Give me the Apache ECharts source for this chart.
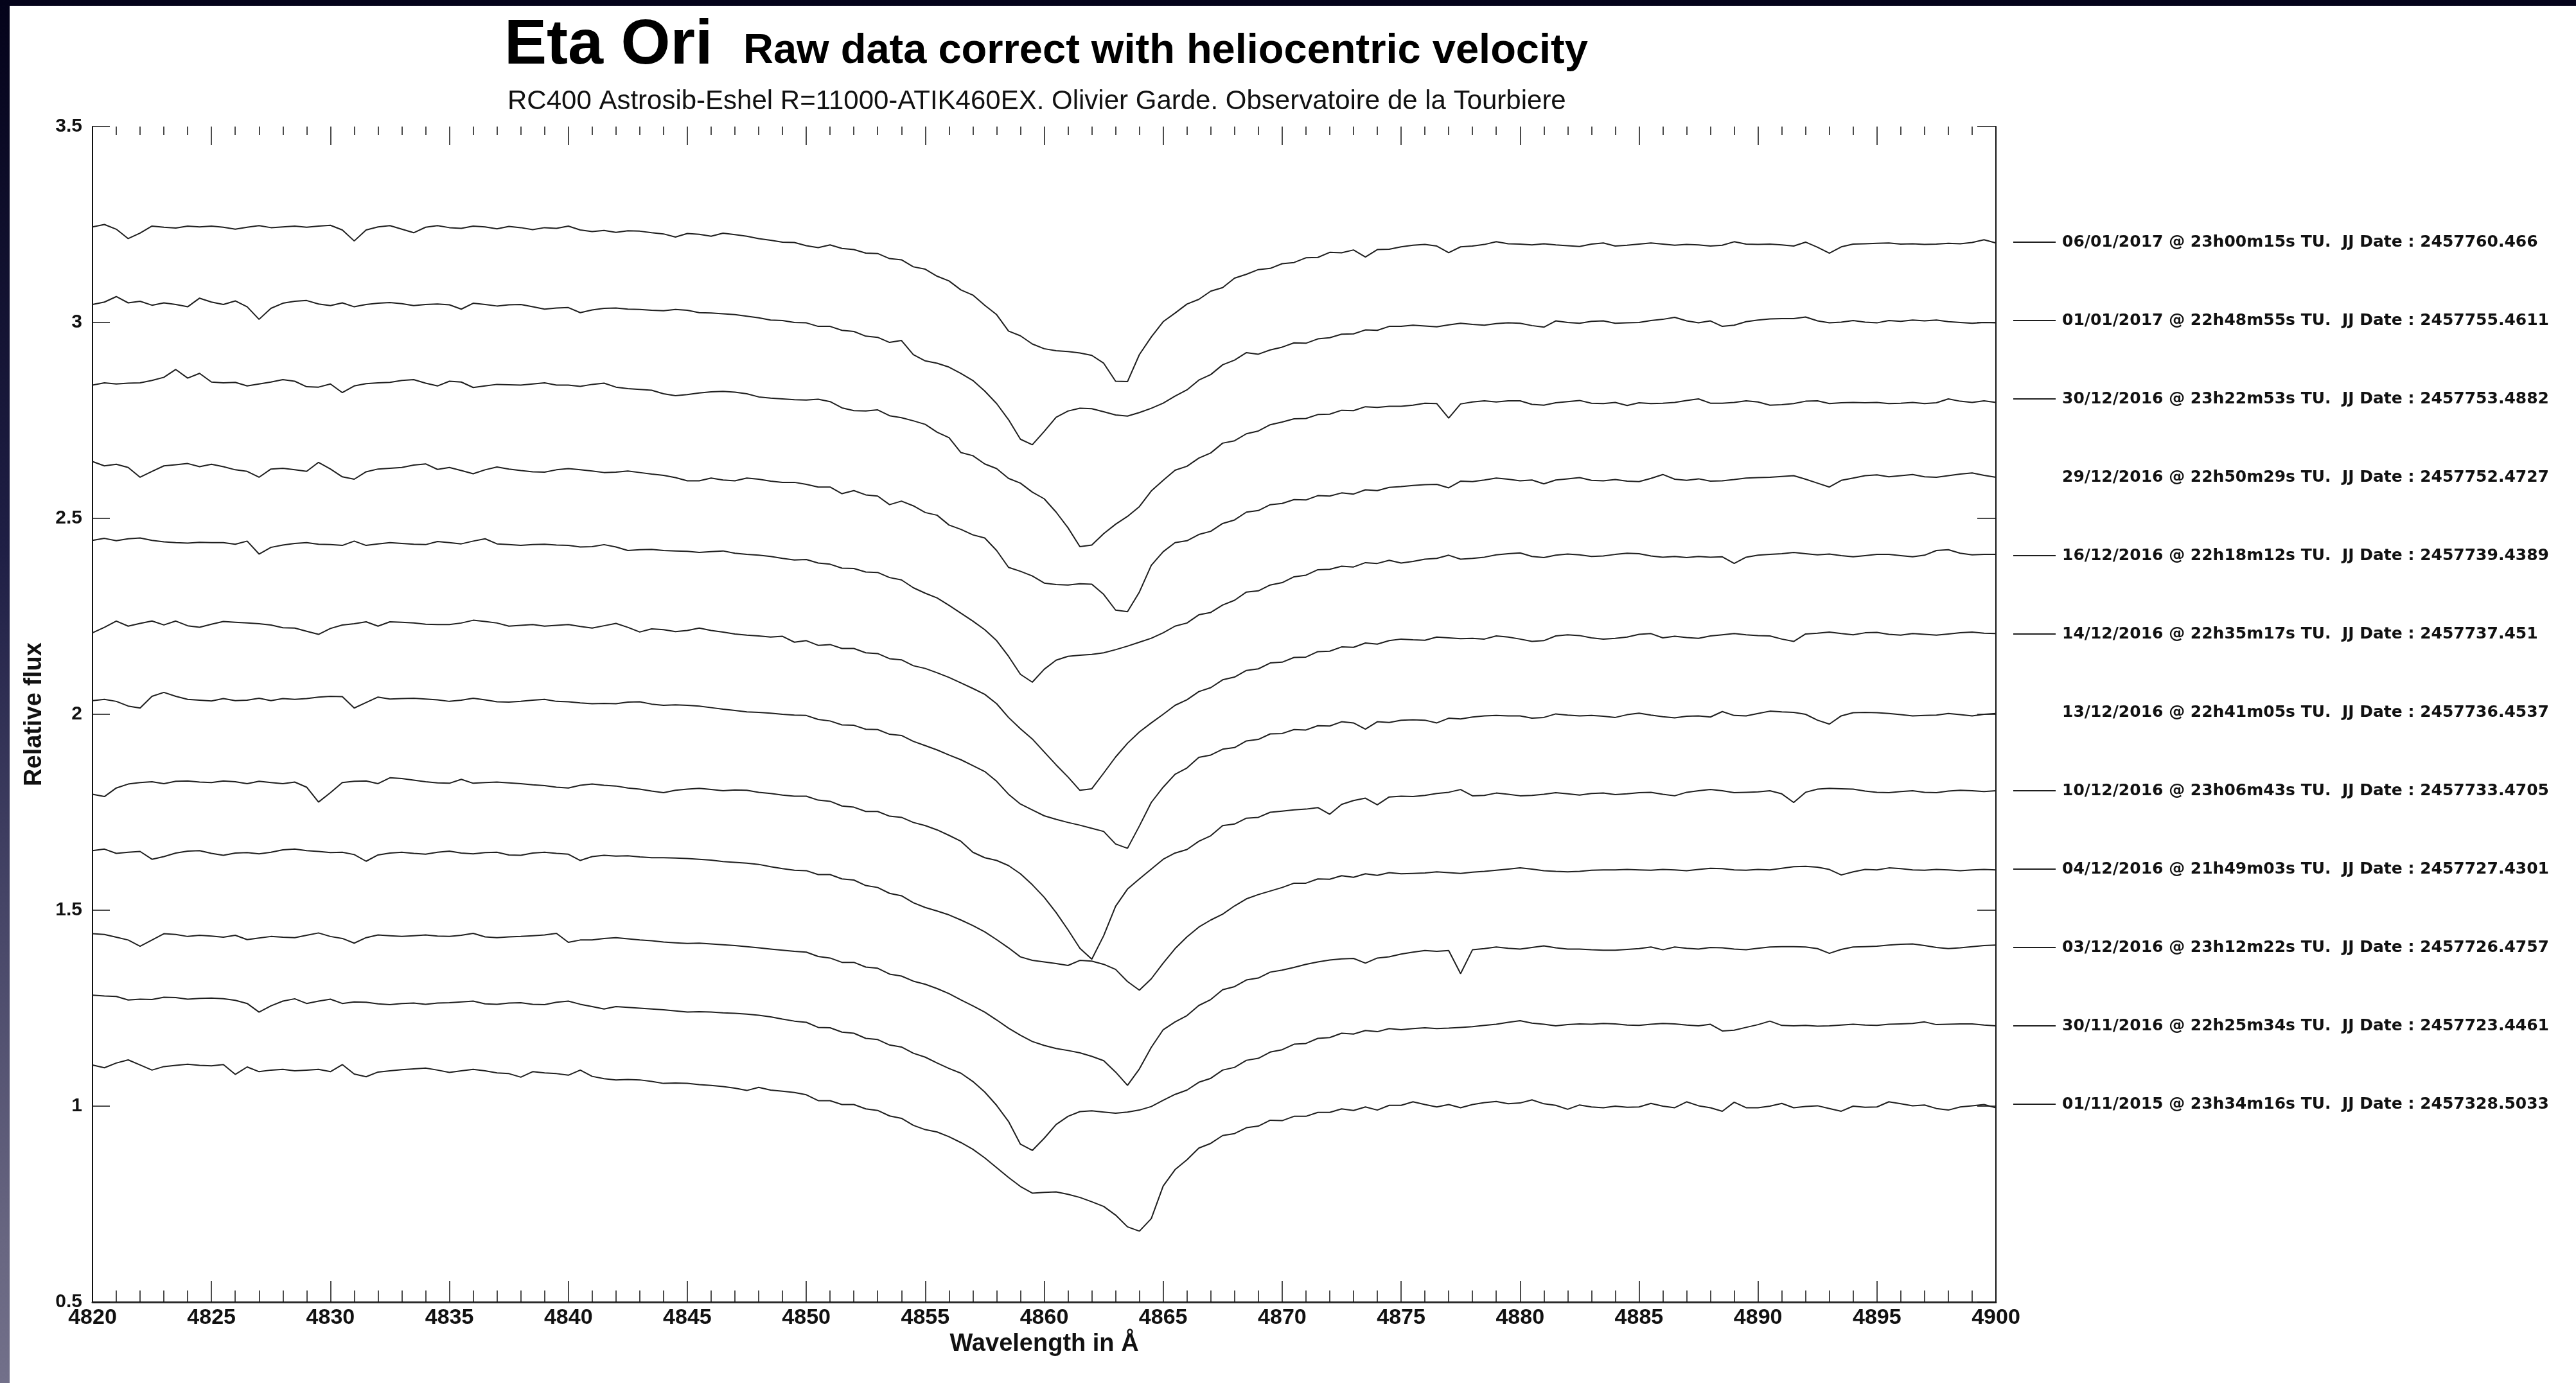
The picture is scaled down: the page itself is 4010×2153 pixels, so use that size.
<!DOCTYPE html>
<html>
<head>
<meta charset="utf-8">
<title>Eta Ori - Raw data correct with heliocentric velocity</title>
<script src="https://cdn.jsdelivr.net/npm/echarts@6/dist/echarts.min.js"></script>
<style>
  html, body { margin: 0; padding: 0; }
  body {
    width: 4010px;
    height: 2153px;
    overflow: hidden;
    background: linear-gradient(to bottom, #04031a 0%, #1f1f45 40%, #454466 65%, #686681 90%, #72708a 100%);
  }
  #chart {
    position: absolute;
    left: 15px;
    top: 9px;
    width: 3995px;
    height: 2144px;
    background: #ffffff;
  }
</style>
</head>
<body>
<div id="chart"></div>
<script>
// wavelength grid (Å), 0.5 Å steps
const wavelength = [
  4820, 4820.5, 4821, 4821.5, 4822, 4822.5, 4823, 4823.5, 4824, 4824.5,
  4825, 4825.5, 4826, 4826.5, 4827, 4827.5, 4828, 4828.5, 4829, 4829.5,
  4830, 4830.5, 4831, 4831.5, 4832, 4832.5, 4833, 4833.5, 4834, 4834.5,
  4835, 4835.5, 4836, 4836.5, 4837, 4837.5, 4838, 4838.5, 4839, 4839.5,
  4840, 4840.5, 4841, 4841.5, 4842, 4842.5, 4843, 4843.5, 4844, 4844.5,
  4845, 4845.5, 4846, 4846.5, 4847, 4847.5, 4848, 4848.5, 4849, 4849.5,
  4850, 4850.5, 4851, 4851.5, 4852, 4852.5, 4853, 4853.5, 4854, 4854.5,
  4855, 4855.5, 4856, 4856.5, 4857, 4857.5, 4858, 4858.5, 4859, 4859.5,
  4860, 4860.5, 4861, 4861.5, 4862, 4862.5, 4863, 4863.5, 4864, 4864.5,
  4865, 4865.5, 4866, 4866.5, 4867, 4867.5, 4868, 4868.5, 4869, 4869.5,
  4870, 4870.5, 4871, 4871.5, 4872, 4872.5, 4873, 4873.5, 4874, 4874.5,
  4875, 4875.5, 4876, 4876.5, 4877, 4877.5, 4878, 4878.5, 4879, 4879.5,
  4880, 4880.5, 4881, 4881.5, 4882, 4882.5, 4883, 4883.5, 4884, 4884.5,
  4885, 4885.5, 4886, 4886.5, 4887, 4887.5, 4888, 4888.5, 4889, 4889.5,
  4890, 4890.5, 4891, 4891.5, 4892, 4892.5, 4893, 4893.5, 4894, 4894.5,
  4895, 4895.5, 4896, 4896.5, 4897, 4897.5, 4898, 4898.5, 4899, 4899.5,
  4900
];

// relative flux of each spectrum (with its vertical offset)
const f_06jan2017 = [
  3.244, 3.250, 3.238, 3.214, 3.228, 3.246, 3.243, 3.241, 3.246, 3.244,
  3.246, 3.243, 3.238, 3.243, 3.247, 3.242, 3.244, 3.246, 3.243, 3.246,
  3.248, 3.236, 3.208, 3.236, 3.244, 3.247, 3.238, 3.229, 3.243, 3.247,
  3.242, 3.240, 3.246, 3.244, 3.239, 3.245, 3.242, 3.237, 3.242, 3.240,
  3.246, 3.236, 3.232, 3.235, 3.230, 3.234, 3.233, 3.229, 3.226, 3.218,
  3.227, 3.225, 3.220, 3.228, 3.224, 3.220, 3.214, 3.210, 3.205, 3.204,
  3.196, 3.191, 3.198, 3.189, 3.186, 3.177, 3.176, 3.163, 3.160, 3.142,
  3.136, 3.118, 3.106, 3.083, 3.070, 3.044, 3.020, 2.978, 2.966, 2.945,
  2.933, 2.928, 2.926, 2.922, 2.916, 2.896, 2.850, 2.849, 2.918, 2.963,
  3.002, 3.024, 3.047, 3.059, 3.080, 3.089, 3.113, 3.123, 3.135, 3.138,
  3.150, 3.153, 3.165, 3.166, 3.179, 3.178, 3.185, 3.167, 3.186, 3.187,
  3.193, 3.197, 3.199, 3.195, 3.178, 3.193, 3.195, 3.199, 3.206, 3.201,
  3.200, 3.198, 3.201, 3.198, 3.196, 3.194, 3.200, 3.203, 3.195, 3.197,
  3.200, 3.203, 3.200, 3.197, 3.199, 3.198, 3.195, 3.197, 3.206, 3.200,
  3.199, 3.200, 3.198, 3.195, 3.205, 3.192, 3.177, 3.193, 3.200, 3.201,
  3.202, 3.203, 3.200, 3.201, 3.199, 3.200, 3.202, 3.201, 3.204, 3.211,
  3.203
];
const f_01jan2017 = [
  3.046, 3.052, 3.066, 3.050, 3.054, 3.044, 3.050, 3.046, 3.040, 3.062,
  3.052, 3.046, 3.055, 3.040, 3.008, 3.036, 3.049, 3.054, 3.056, 3.047,
  3.043, 3.050, 3.040, 3.046, 3.049, 3.051, 3.048, 3.043, 3.046, 3.047,
  3.045, 3.034, 3.049, 3.046, 3.042, 3.045, 3.046, 3.040, 3.034, 3.037,
  3.038, 3.025, 3.032, 3.036, 3.037, 3.034, 3.033, 3.031, 3.030, 3.033,
  3.031, 3.025, 3.024, 3.022, 3.020, 3.016, 3.012, 3.006, 3.005, 3.000,
  2.999, 2.990, 2.990, 2.980, 2.977, 2.965, 2.962, 2.949, 2.954, 2.918,
  2.902, 2.896, 2.886, 2.870, 2.852, 2.825, 2.793, 2.752, 2.702, 2.688,
  2.722, 2.758, 2.774, 2.781, 2.780, 2.772, 2.764, 2.761, 2.770, 2.781,
  2.794, 2.812, 2.828, 2.853, 2.867, 2.892, 2.904, 2.923, 2.919, 2.930,
  2.937, 2.948, 2.947, 2.958, 2.961, 2.970, 2.971, 2.981, 2.980, 2.990,
  2.990, 2.993, 2.991, 2.989, 2.994, 2.998, 2.995, 2.993, 2.997, 2.999,
  2.998, 2.992, 2.988, 3.004, 3.000, 2.998, 3.003, 3.004, 2.998, 2.999,
  3.000, 3.005, 3.008, 3.013, 3.004, 2.999, 3.004, 2.990, 2.993, 3.002,
  3.006, 3.009, 3.010, 3.010, 3.014, 3.004, 2.999, 3.001, 3.005, 3.001,
  2.999, 3.005, 3.003, 3.006, 3.004, 3.006, 3.002, 3.000, 2.998, 3.000,
  2.999
];
const f_30dec2016 = [
  2.840, 2.846, 2.843, 2.845, 2.846, 2.852, 2.860, 2.880, 2.858, 2.870,
  2.848, 2.846, 2.847, 2.838, 2.843, 2.848, 2.854, 2.850, 2.836, 2.835,
  2.843, 2.821, 2.838, 2.844, 2.846, 2.847, 2.852, 2.854, 2.845, 2.838,
  2.850, 2.848, 2.834, 2.838, 2.842, 2.841, 2.840, 2.843, 2.846, 2.840,
  2.840, 2.837, 2.842, 2.845, 2.835, 2.831, 2.829, 2.827, 2.818, 2.813,
  2.816, 2.820, 2.823, 2.824, 2.822, 2.818, 2.810, 2.807, 2.805, 2.803,
  2.802, 2.804, 2.798, 2.782, 2.775, 2.774, 2.777, 2.762, 2.757, 2.749,
  2.740, 2.720, 2.706, 2.668, 2.660, 2.639, 2.627, 2.602, 2.590, 2.567,
  2.550, 2.516, 2.476, 2.428, 2.432, 2.461, 2.485, 2.505, 2.530, 2.570,
  2.597, 2.623, 2.633, 2.654, 2.667, 2.692, 2.698, 2.716, 2.723, 2.739,
  2.746, 2.754, 2.755, 2.765, 2.766, 2.776, 2.775, 2.785, 2.783, 2.786,
  2.786, 2.789, 2.794, 2.793, 2.756, 2.792, 2.797, 2.800, 2.797, 2.800,
  2.800, 2.791, 2.789, 2.795, 2.798, 2.801, 2.794, 2.793, 2.796, 2.788,
  2.795, 2.793, 2.794, 2.796, 2.801, 2.805, 2.794, 2.794, 2.796, 2.800,
  2.797, 2.789, 2.790, 2.793, 2.799, 2.800, 2.793, 2.795, 2.796, 2.795,
  2.796, 2.793, 2.794, 2.796, 2.793, 2.795, 2.805, 2.799, 2.796, 2.800,
  2.796
];
const f_29dec2016 = [
  2.645, 2.634, 2.638, 2.630, 2.605, 2.620, 2.634, 2.637, 2.640, 2.632,
  2.638, 2.632, 2.624, 2.620, 2.605, 2.626, 2.628, 2.624, 2.620, 2.643,
  2.626, 2.606, 2.600, 2.619, 2.626, 2.628, 2.630, 2.636, 2.639, 2.625,
  2.630, 2.622, 2.614, 2.624, 2.631, 2.626, 2.622, 2.619, 2.618, 2.624,
  2.627, 2.624, 2.621, 2.617, 2.618, 2.621, 2.617, 2.613, 2.610, 2.604,
  2.596, 2.596, 2.603, 2.598, 2.596, 2.603, 2.600, 2.595, 2.592, 2.592,
  2.587, 2.580, 2.580, 2.563, 2.571, 2.560, 2.557, 2.535, 2.544, 2.532,
  2.515, 2.508, 2.483, 2.472, 2.458, 2.450, 2.418, 2.375, 2.365, 2.353,
  2.335, 2.331, 2.330, 2.333, 2.332, 2.306, 2.266, 2.262, 2.312, 2.380,
  2.415, 2.438, 2.443, 2.459, 2.467, 2.487, 2.496, 2.516, 2.520, 2.535,
  2.538, 2.548, 2.547, 2.558, 2.557, 2.565, 2.562, 2.573, 2.571, 2.579,
  2.581, 2.584, 2.586, 2.587, 2.578, 2.595, 2.594, 2.598, 2.603, 2.600,
  2.596, 2.598, 2.588, 2.598, 2.601, 2.604, 2.597, 2.596, 2.599, 2.595,
  2.594, 2.602, 2.612, 2.600, 2.597, 2.601, 2.595, 2.596, 2.599, 2.603,
  2.604, 2.605, 2.607, 2.609, 2.600, 2.590, 2.580, 2.597, 2.603, 2.609,
  2.611, 2.606, 2.609, 2.612, 2.606, 2.605, 2.609, 2.613, 2.616, 2.610,
  2.605
];
const f_16dec2016 = [
  2.444, 2.449, 2.443, 2.448, 2.450, 2.444, 2.440, 2.438, 2.437, 2.439,
  2.438, 2.438, 2.434, 2.442, 2.409, 2.426, 2.432, 2.436, 2.438, 2.434,
  2.433, 2.431, 2.442, 2.431, 2.435, 2.438, 2.436, 2.434, 2.433, 2.441,
  2.438, 2.435, 2.442, 2.448, 2.435, 2.433, 2.431, 2.433, 2.434, 2.432,
  2.431, 2.427, 2.428, 2.433, 2.427, 2.418, 2.420, 2.421, 2.418, 2.417,
  2.416, 2.413, 2.415, 2.417, 2.411, 2.408, 2.406, 2.403, 2.398, 2.394,
  2.395, 2.386, 2.383, 2.373, 2.372, 2.363, 2.362, 2.349, 2.343, 2.323,
  2.309, 2.297, 2.278, 2.258, 2.238, 2.216, 2.188, 2.148, 2.102, 2.082,
  2.115, 2.138, 2.148, 2.151, 2.153, 2.157, 2.165, 2.174, 2.184, 2.194,
  2.208, 2.225, 2.233, 2.254, 2.260, 2.279, 2.291, 2.312, 2.315, 2.330,
  2.336, 2.351, 2.355, 2.369, 2.370, 2.378, 2.376, 2.387, 2.385, 2.393,
  2.386, 2.390, 2.396, 2.398, 2.406, 2.396, 2.398, 2.401, 2.407, 2.410,
  2.412, 2.403, 2.400, 2.406, 2.409, 2.407, 2.403, 2.404, 2.408, 2.411,
  2.410, 2.404, 2.401, 2.403, 2.400, 2.403, 2.401, 2.402, 2.385, 2.401,
  2.406, 2.408, 2.410, 2.413, 2.410, 2.407, 2.409, 2.405, 2.402, 2.405,
  2.408, 2.408, 2.405, 2.402, 2.406, 2.418, 2.420, 2.411, 2.407, 2.408,
  2.408
];
const f_14dec2016 = [
  2.208, 2.222, 2.238, 2.225, 2.232, 2.238, 2.228, 2.238, 2.226, 2.222,
  2.230, 2.237, 2.235, 2.233, 2.231, 2.228, 2.221, 2.220, 2.212, 2.204,
  2.219, 2.228, 2.231, 2.236, 2.225, 2.236, 2.235, 2.233, 2.230, 2.229,
  2.229, 2.233, 2.240, 2.237, 2.233, 2.225, 2.227, 2.229, 2.225, 2.227,
  2.229, 2.224, 2.220, 2.226, 2.232, 2.222, 2.210, 2.218, 2.216, 2.211,
  2.214, 2.220, 2.214, 2.210, 2.205, 2.202, 2.200, 2.197, 2.199, 2.184,
  2.188, 2.176, 2.178, 2.168, 2.168, 2.157, 2.155, 2.142, 2.139, 2.124,
  2.117, 2.106, 2.094, 2.080, 2.066, 2.051, 2.027, 1.992, 1.963, 1.937,
  1.904, 1.871, 1.840, 1.806, 1.810, 1.850, 1.891, 1.926, 1.955, 1.978,
  2.000, 2.023, 2.037, 2.058, 2.068, 2.088, 2.095, 2.112, 2.116, 2.131,
  2.133, 2.145, 2.146, 2.160, 2.161, 2.172, 2.171, 2.182, 2.179, 2.188,
  2.192, 2.190, 2.189, 2.197, 2.195, 2.193, 2.194, 2.192, 2.200, 2.197,
  2.192, 2.186, 2.188, 2.200, 2.203, 2.201, 2.195, 2.192, 2.194, 2.197,
  2.204, 2.206, 2.195, 2.199, 2.196, 2.194, 2.200, 2.203, 2.206, 2.203,
  2.201, 2.200, 2.192, 2.186, 2.205, 2.207, 2.210, 2.206, 2.203, 2.208,
  2.209, 2.204, 2.202, 2.206, 2.204, 2.202, 2.205, 2.208, 2.210, 2.207,
  2.206
];
const f_13dec2016 = [
  2.035, 2.038, 2.033, 2.021, 2.016, 2.046, 2.056, 2.046, 2.038, 2.036,
  2.034, 2.040, 2.035, 2.036, 2.041, 2.035, 2.040, 2.038, 2.040, 2.044,
  2.046, 2.045, 2.016, 2.030, 2.044, 2.039, 2.040, 2.041, 2.039, 2.037,
  2.033, 2.036, 2.041, 2.037, 2.032, 2.031, 2.033, 2.036, 2.038, 2.033,
  2.032, 2.029, 2.027, 2.028, 2.027, 2.031, 2.032, 2.026, 2.023, 2.024,
  2.023, 2.021, 2.017, 2.013, 2.010, 2.006, 2.005, 2.003, 2.000, 1.998,
  1.997, 1.987, 1.983, 1.973, 1.972, 1.962, 1.961, 1.949, 1.946, 1.931,
  1.920, 1.909, 1.896, 1.884, 1.869, 1.854, 1.829, 1.796, 1.771, 1.756,
  1.741, 1.732, 1.724, 1.717, 1.709, 1.701, 1.669, 1.658, 1.715, 1.775,
  1.814, 1.847, 1.863, 1.890, 1.896, 1.911, 1.915, 1.932, 1.936, 1.950,
  1.951, 1.961, 1.960, 1.971, 1.970, 1.981, 1.978, 1.962, 1.981, 1.979,
  1.985, 1.986, 1.985, 1.978, 1.990, 1.988, 1.993, 1.996, 1.997, 1.996,
  1.996, 1.990, 1.992, 2.001, 1.998, 1.996, 1.997, 1.995, 1.992, 1.999,
  2.003, 1.998, 1.994, 1.991, 1.995, 1.996, 1.993, 2.007, 1.997, 1.996,
  2.002, 2.008, 2.006, 2.005, 2.000, 1.985, 1.975, 1.996, 2.004, 2.005,
  2.004, 2.002, 1.999, 1.996, 1.997, 1.998, 2.002, 1.999, 1.996, 2.000,
  2.002
];
const f_10dec2016 = [
  1.796, 1.790, 1.812, 1.822, 1.826, 1.828, 1.823, 1.829, 1.830, 1.827,
  1.826, 1.830, 1.828, 1.823, 1.829, 1.826, 1.823, 1.827, 1.814, 1.776,
  1.800, 1.826, 1.829, 1.830, 1.823, 1.838, 1.836, 1.832, 1.828, 1.825,
  1.824, 1.834, 1.824, 1.826, 1.827, 1.825, 1.823, 1.820, 1.818, 1.814,
  1.812, 1.819, 1.822, 1.819, 1.817, 1.812, 1.809, 1.804, 1.800, 1.806,
  1.809, 1.811, 1.808, 1.805, 1.807, 1.806, 1.801, 1.798, 1.794, 1.791,
  1.791, 1.781, 1.778, 1.766, 1.763, 1.752, 1.752, 1.740, 1.737, 1.724,
  1.716, 1.705, 1.691, 1.676, 1.648, 1.634, 1.627, 1.614, 1.593, 1.565,
  1.533, 1.494, 1.450, 1.403, 1.375, 1.435, 1.510, 1.554, 1.580, 1.605,
  1.630, 1.646, 1.655, 1.676, 1.690, 1.716, 1.720, 1.735, 1.737, 1.750,
  1.753, 1.756, 1.758, 1.762, 1.745, 1.770, 1.780, 1.786, 1.769, 1.789,
  1.791, 1.790, 1.793, 1.798, 1.801, 1.808, 1.792, 1.793, 1.799, 1.796,
  1.792, 1.793, 1.796, 1.800, 1.797, 1.794, 1.798, 1.799, 1.795, 1.797,
  1.800, 1.801, 1.796, 1.792, 1.801, 1.805, 1.808, 1.805, 1.800, 1.801,
  1.802, 1.805, 1.797, 1.775, 1.801, 1.809, 1.811, 1.810, 1.809, 1.804,
  1.801, 1.800, 1.803, 1.805, 1.801, 1.800, 1.804, 1.806, 1.805, 1.803,
  1.805
];
const f_04dec2016 = [
  1.652, 1.656, 1.645, 1.648, 1.650, 1.630, 1.637, 1.646, 1.651, 1.652,
  1.645, 1.640, 1.646, 1.647, 1.644, 1.648, 1.654, 1.656, 1.652, 1.650,
  1.647, 1.648, 1.642, 1.625, 1.641, 1.646, 1.648, 1.645, 1.643, 1.648,
  1.651, 1.646, 1.644, 1.647, 1.648, 1.641, 1.640, 1.646, 1.648, 1.645,
  1.643, 1.627, 1.637, 1.640, 1.638, 1.639, 1.636, 1.634, 1.634, 1.633,
  1.632, 1.630, 1.628, 1.624, 1.622, 1.620, 1.617, 1.611, 1.606, 1.602,
  1.601, 1.591, 1.591, 1.580, 1.577, 1.563, 1.558, 1.543, 1.537, 1.519,
  1.507, 1.498, 1.488, 1.475, 1.461, 1.445, 1.425, 1.404, 1.381, 1.372,
  1.368, 1.364, 1.359, 1.372, 1.370, 1.362, 1.349, 1.318, 1.296, 1.325,
  1.365, 1.402, 1.432, 1.457, 1.475, 1.490, 1.511, 1.529, 1.540, 1.549,
  1.558, 1.569, 1.569, 1.580, 1.579, 1.588, 1.584, 1.593, 1.589, 1.596,
  1.593, 1.594, 1.595, 1.598, 1.596, 1.594, 1.597, 1.599, 1.602, 1.605,
  1.608, 1.605, 1.601, 1.599, 1.598, 1.599, 1.602, 1.603, 1.603, 1.604,
  1.603, 1.602, 1.604, 1.603, 1.601, 1.604, 1.607, 1.606, 1.603, 1.602,
  1.604, 1.603, 1.607, 1.611, 1.612, 1.610, 1.604, 1.590, 1.598, 1.604,
  1.603, 1.608, 1.606, 1.603, 1.602, 1.604, 1.603, 1.601, 1.603, 1.604,
  1.603
];
const f_03dec2016 = [
  1.440, 1.438, 1.431, 1.424, 1.408, 1.424, 1.440, 1.438, 1.433, 1.436,
  1.434, 1.431, 1.436, 1.425, 1.429, 1.433, 1.431, 1.430, 1.436, 1.442,
  1.433, 1.428, 1.416, 1.430, 1.437, 1.435, 1.433, 1.435, 1.437, 1.434,
  1.433, 1.436, 1.441, 1.432, 1.430, 1.432, 1.433, 1.435, 1.437, 1.441,
  1.418, 1.424, 1.424, 1.428, 1.430, 1.427, 1.424, 1.422, 1.419, 1.417,
  1.415, 1.416, 1.414, 1.412, 1.410, 1.407, 1.404, 1.401, 1.398, 1.395,
  1.393, 1.382, 1.378, 1.367, 1.367, 1.355, 1.352, 1.337, 1.332, 1.319,
  1.311, 1.300, 1.287, 1.271, 1.256, 1.240, 1.220, 1.199, 1.181, 1.165,
  1.155, 1.147, 1.142, 1.136, 1.127, 1.116, 1.087, 1.053, 1.095, 1.150,
  1.195, 1.215, 1.231, 1.257, 1.272, 1.297, 1.305, 1.322, 1.327, 1.342,
  1.347, 1.354, 1.362, 1.368, 1.373, 1.376, 1.377, 1.365, 1.378, 1.381,
  1.388, 1.393, 1.397, 1.395, 1.397, 1.338, 1.399, 1.402, 1.406, 1.403,
  1.401, 1.405, 1.409, 1.404, 1.401, 1.401, 1.399, 1.398, 1.398, 1.400,
  1.402, 1.406, 1.399, 1.406, 1.403, 1.401, 1.405, 1.404, 1.401, 1.399,
  1.403, 1.406, 1.407, 1.407, 1.406, 1.402, 1.390, 1.400, 1.406, 1.407,
  1.408, 1.411, 1.413, 1.414, 1.410, 1.405, 1.402, 1.404, 1.407, 1.410,
  1.411
];
const f_30nov2016 = [
  1.283, 1.281, 1.280, 1.271, 1.273, 1.272, 1.278, 1.277, 1.273, 1.275,
  1.276, 1.274, 1.270, 1.262, 1.240, 1.256, 1.268, 1.274, 1.262, 1.268,
  1.273, 1.262, 1.266, 1.265, 1.261, 1.259, 1.262, 1.263, 1.260, 1.263,
  1.264, 1.266, 1.268, 1.261, 1.260, 1.263, 1.264, 1.260, 1.259, 1.265,
  1.268, 1.260, 1.254, 1.248, 1.254, 1.252, 1.250, 1.248, 1.246, 1.243,
  1.240, 1.241, 1.240, 1.238, 1.237, 1.235, 1.232, 1.228, 1.222, 1.217,
  1.214, 1.201, 1.200, 1.189, 1.186, 1.173, 1.170, 1.156, 1.151, 1.135,
  1.125, 1.110, 1.096, 1.084, 1.063, 1.036, 1.002, 0.961, 0.903, 0.887,
  0.918, 0.953, 0.974, 0.986, 0.988, 0.985, 0.982, 0.985, 0.990, 0.999,
  1.015, 1.030, 1.041, 1.061, 1.071, 1.092, 1.099, 1.117, 1.122, 1.138,
  1.144, 1.158, 1.160, 1.173, 1.175, 1.186, 1.184, 1.193, 1.190, 1.198,
  1.195, 1.198, 1.200, 1.198, 1.199, 1.201, 1.203, 1.206, 1.209, 1.214,
  1.218, 1.212, 1.209, 1.205, 1.208, 1.210, 1.209, 1.211, 1.210, 1.207,
  1.206, 1.209, 1.211, 1.210, 1.207, 1.205, 1.209, 1.192, 1.194, 1.201,
  1.208, 1.217, 1.206, 1.205, 1.206, 1.204, 1.205, 1.207, 1.209, 1.207,
  1.206, 1.209, 1.210, 1.211, 1.215, 1.208, 1.209, 1.210, 1.210, 1.207,
  1.205
];
const f_01nov2015 = [
  1.105, 1.098, 1.110, 1.118, 1.105, 1.092, 1.101, 1.104, 1.107, 1.104,
  1.103, 1.106, 1.081, 1.100, 1.088, 1.092, 1.094, 1.090, 1.092, 1.094,
  1.088, 1.106, 1.082, 1.075, 1.087, 1.090, 1.093, 1.095, 1.097, 1.092,
  1.086, 1.090, 1.094, 1.090, 1.085, 1.083, 1.074, 1.088, 1.085, 1.083,
  1.079, 1.092, 1.076, 1.070, 1.067, 1.068, 1.067, 1.063, 1.058, 1.059,
  1.058, 1.055, 1.053, 1.050, 1.046, 1.040, 1.048, 1.041, 1.038, 1.035,
  1.029, 1.014, 1.014, 1.004, 1.004, 0.993, 0.989, 0.975, 0.969, 0.951,
  0.940, 0.934, 0.922, 0.907, 0.890, 0.868, 0.843, 0.818, 0.795, 0.778,
  0.780, 0.781, 0.775, 0.767, 0.756, 0.744, 0.722, 0.692, 0.681, 0.713,
  0.796, 0.838, 0.863, 0.893, 0.905, 0.925, 0.930, 0.945, 0.949, 0.964,
  0.963, 0.974, 0.974, 0.984, 0.984, 0.993, 0.989, 0.998, 0.990, 1.002,
  1.002, 1.011, 1.004, 0.998, 1.004, 0.996, 1.004, 1.009, 1.012, 1.006,
  1.008, 1.016, 1.006, 1.002, 0.992, 1.003, 0.998, 0.996, 1.000, 0.997,
  0.998, 1.007, 1.000, 0.996, 1.011, 1.001, 0.996, 0.987, 1.010, 0.996,
  0.996, 1.000, 1.007, 0.996, 0.999, 1.001, 0.994, 0.987, 1.000, 0.997,
  0.998, 1.011, 1.006, 1.001, 1.003, 0.994, 0.990, 0.998, 1.001, 1.004,
  0.996
];

const spectrumLabels = [
  '06/01/2017 @ 23h00m15s TU.  JJ Date : 2457760.466',
  '01/01/2017 @ 22h48m55s TU.  JJ Date : 2457755.4611',
  '30/12/2016 @ 23h22m53s TU.  JJ Date : 2457753.4882',
  '29/12/2016 @ 22h50m29s TU.  JJ Date : 2457752.4727',
  '16/12/2016 @ 22h18m12s TU.  JJ Date : 2457739.4389',
  '14/12/2016 @ 22h35m17s TU.  JJ Date : 2457737.451',
  '13/12/2016 @ 22h41m05s TU.  JJ Date : 2457736.4537',
  '10/12/2016 @ 23h06m43s TU.  JJ Date : 2457733.4705',
  '04/12/2016 @ 21h49m03s TU.  JJ Date : 2457727.4301',
  '03/12/2016 @ 23h12m22s TU.  JJ Date : 2457726.4757',
  '30/11/2016 @ 22h25m34s TU.  JJ Date : 2457723.4461',
  '01/11/2015 @ 23h34m16s TU.  JJ Date : 2457328.5033'
];

// two legend entries are drawn without their line sample in the original
const labelsWithoutLine = [
  '29/12/2016 @ 22h50m29s TU.  JJ Date : 2457752.4727',
  '13/12/2016 @ 22h41m05s TU.  JJ Date : 2457736.4537'
];

const spectra = [
  f_06jan2017, f_01jan2017, f_30dec2016, f_29dec2016, f_16dec2016, f_14dec2016,
  f_13dec2016, f_10dec2016, f_04dec2016, f_03dec2016, f_30nov2016, f_01nov2015
];

const yTicks = { min: 0.5, max: 3.5, interval: 0.5 };
const xTicks = { min: 4820, max: 4900, interval: 5 };

const ink = '#111111';
const lineInk = '#1e1e1e';
const mainFont = 'Liberation Sans';

const chart = echarts.init(document.getElementById('chart'), null, { renderer: 'canvas' });

const series = spectra.map((values, i) => ({
  name: spectrumLabels[i],
  type: 'line',
  data: wavelength.map((w, j) => [w, values[j]]),
  showSymbol: false,
  symbol: 'none',
  silent: true,
  lineStyle: { color: lineInk, width: 2 },
  itemStyle: { color: lineInk }
}));

const option = {
  animation: false,
  backgroundColor: '#ffffff',
  title: [
    {
      text: 'Eta Ori',
      left: 770,
      top: 13,
      padding: 0,
      textStyle: { fontFamily: mainFont, fontSize: 99, fontWeight: 'bold', color: '#000' }
    },
    {
      text: 'Raw data correct with heliocentric velocity',
      left: 1142,
      top: 39,
      padding: 0,
      textStyle: { fontFamily: mainFont, fontSize: 65, fontWeight: 'bold', color: '#000' }
    },
    {
      text: 'RC400 Astrosib-Eshel R=11000-ATIK460EX. Olivier Garde. Observatoire de la Tourbiere',
      left: 775,
      top: 128,
      padding: 0,
      textStyle: { fontFamily: mainFont, fontSize: 42, fontWeight: 'normal', color: ink }
    }
  ],
  legend: {
    orient: 'vertical',
    left: 3119,
    top: 354,
    padding: 0,
    itemWidth: 66,
    itemHeight: 2,
    itemGap: 94,
    icon: 'rect',
    selectedMode: false,
    textStyle: {
      fontFamily: 'DejaVu Sans',
      fontWeight: 'bold',
      fontSize: 25,
      lineHeight: 28,
      color: ink,
      padding: [0, 0, 0, 5]
    },
    data: spectrumLabels.map((name) =>
      labelsWithoutLine.includes(name) ? { name, itemStyle: { opacity: 0 } } : { name }
    )
  },
  grid: {
    left: 129,
    right: 903,
    top: 188,
    bottom: 126,
    containLabel: false
  },
  xAxis: [
    {
      type: 'value',
      position: 'bottom',
      min: xTicks.min,
      max: xTicks.max,
      interval: xTicks.interval,
      name: 'Wavelength in Å',
      nameLocation: 'middle',
      nameGap: 44,
      nameTextStyle: { fontFamily: mainFont, fontSize: 38, fontWeight: 'bold', color: ink },
      axisLine: { show: true, onZero: false, lineStyle: { color: '#2a2a2a', width: 3 } },
      axisTick: { show: true, inside: true, length: 33, lineStyle: { color: ink, width: 1.5 } },
      minorTick: { show: true, splitNumber: 5, length: 18, lineStyle: { color: ink, width: 1.5 } },
      axisLabel: {
        fontFamily: mainFont, fontSize: 34, fontWeight: 'bold', color: ink, margin: 8,
        showMinLabel: true, showMaxLabel: true,
        formatter: (value) => String(value)
      },
      splitLine: { show: false },
      minorSplitLine: { show: false }
    },
    {
      type: 'value',
      position: 'top',
      min: xTicks.min,
      max: xTicks.max,
      interval: xTicks.interval,
      axisLine: { show: false },
      axisTick: { show: true, inside: true, length: 29, lineStyle: { color: ink, width: 1.5 } },
      minorTick: { show: true, splitNumber: 5, length: 13, lineStyle: { color: ink, width: 1.5 } },
      axisLabel: { show: false },
      splitLine: { show: false },
      minorSplitLine: { show: false }
    }
  ],
  yAxis: [
    {
      type: 'value',
      position: 'left',
      min: yTicks.min,
      max: yTicks.max,
      interval: yTicks.interval,
      name: 'Relative flux',
      nameLocation: 'middle',
      nameRotate: 90,
      nameGap: 71,
      nameTextStyle: { fontFamily: mainFont, fontSize: 38, fontWeight: 'bold', color: ink },
      axisLine: { show: true, onZero: false, lineStyle: { color: ink, width: 2 } },
      axisTick: { show: true, inside: true, length: 27, lineStyle: { color: ink, width: 1.5 } },
      axisLabel: {
        fontFamily: mainFont, fontSize: 30, fontWeight: 'bold', color: ink, margin: 16,
        showMinLabel: true, showMaxLabel: true
      },
      splitLine: { show: false }
    },
    {
      type: 'value',
      position: 'right',
      min: yTicks.min,
      max: yTicks.max,
      interval: yTicks.interval,
      axisLine: { show: true, onZero: false, lineStyle: { color: ink, width: 2 } },
      axisTick: { show: true, inside: true, length: 29, lineStyle: { color: ink, width: 1.5 } },
      axisLabel: { show: false },
      splitLine: { show: false }
    }
  ],
  series
};

chart.setOption(option);
</script>
</body>
</html>
